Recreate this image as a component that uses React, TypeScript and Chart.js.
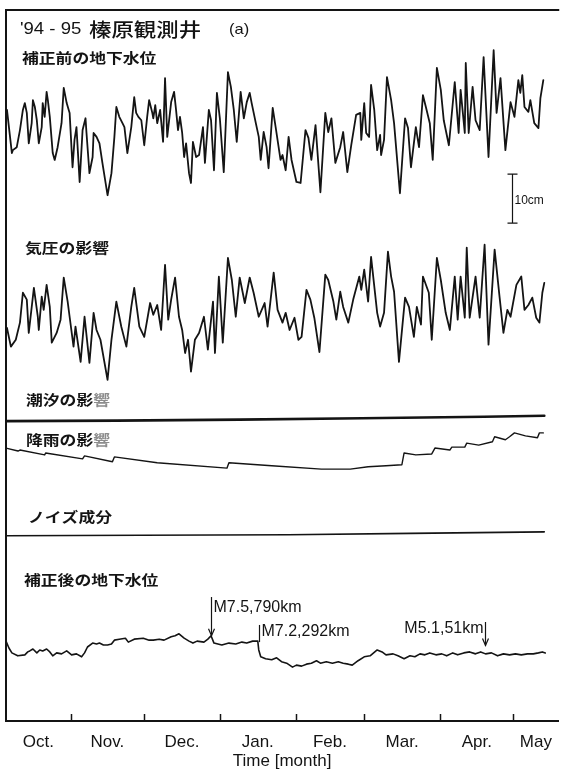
import { useEffect, useRef } from "react";
import { Chart, registerables } from "chart.js";

Chart.register(...registerables);

// ---------- axis / tick data (x in days since 1 Oct 1994) ----------
const MONTH_LABELS = ["Oct.", "Nov.", "Dec.", "Jan.", "Feb.", "Mar.", "Apr.", "May"];
const MONTH_STARTS = [31, 61, 92, 123, 151, 182, 212];
const X_MIN = 4.6;
const X_MAX = 230.3;
const Y_MIN = -145.1; // cm
const Y_MAX = 0;

// ---------- series (day, cm relative to each trace's own baseline) ----------
const RAW_LEVEL: [number, number][] = [
  [5.0, 4.1], [7.0, -4.7], [7.4, -4.1], [9.0, -3.5], [10.3, 0], [11.5, 4.1], [12.3, 5.5], [13.1, 3.5], [13.9, -2.7],
  [15.1, 1.4], [15.6, 6.1], [16.4, 4.7], [17.2, 2.0], [18.0, -2.7], [19.2, 0.6], [19.6, 5.5], [20.4, 2.7], [21.2, 7.8],
  [21.7, 6.1], [22.5, 2.7], [23.7, -4.7], [24.5, -6.1], [25.7, -3.5], [27.3, 1.4], [28.2, 8.6], [29.4, 5.5], [30.6, 3.5],
  [31.8, -7.6], [32.6, -2.0], [33.4, 0.6], [34.7, -10.6], [35.9, 0], [37.1, 2.4], [37.5, -0.6], [38.7, -8.8], [40.0, -5.5],
  [40.4, -0.6], [41.6, -1.4], [42.8, -2.7], [44.0, -6.7], [46.1, -13.3], [47.7, -8.8], [48.9, -1.4], [49.7, 4.7], [50.9, 2.7],
  [52.2, 1.4], [53.0, 0.6], [54.2, -4.7], [55.8, 0.6], [57.0, 6.7], [57.8, 3.5], [58.7, 2.7], [59.9, 2.0], [61.1, -3.1],
  [62.3, 2.7], [63.1, 6.1], [64.4, 3.5], [64.8, 2.4], [65.6, 5.1], [66.4, 1.4], [67.6, 4.1], [68.8, -2.4], [69.6, 10.6],
  [70.5, -1.4], [72.1, 5.7], [73.3, 7.8], [74.1, 4.1], [74.9, 0], [75.7, 2.7], [76.6, -0.6], [77.4, -5.5], [78.2, -2.7],
  [79.4, -8.8], [80.2, -10.8], [81.0, -2.4], [82.3, -5.5], [83.5, -5.1], [85.1, 0.6], [85.9, -6.7], [87.5, 4.1], [88.4, 2.0],
  [89.6, -8.2], [90.8, 7.6], [92.0, 2.4], [93.6, -8.6], [95.3, 11.8], [96.5, 8.8], [97.7, 4.1], [98.9, -2.4], [100.5, 7.8],
  [101.8, 2.4], [103.0, 5.7], [104.2, 7.6], [105.0, 5.5], [106.7, 1.4], [107.9, -1.4], [108.7, -6.1], [109.9, -0.4],
  [111.1, -3.5], [111.9, -7.8], [113.6, 4.5], [114.8, 0.6], [116.8, -6.1], [117.6, -5.1], [118.9, -8.2], [120.1, -1.4],
  [121.3, -6.1], [123.3, -10.6], [125.0, -10.8], [127.0, 0], [128.2, -1.6], [129.4, -6.1], [131.1, 1.0], [133.1, -12.7],
  [135.1, 3.5], [136.3, -0.4], [137.6, 2.4], [139.2, -6.7], [141.2, -3.5], [142.4, -0.4], [144.1, -8.6], [145.7, -3.1],
  [147.7, 3.1], [149.4, 3.5], [149.8, -2.0], [151.0, 5.5], [151.8, -0.6], [153.0, -1.4], [153.8, 9.2], [155.1, 4.1],
  [156.3, -4.1], [157.5, -1.0], [157.9, -5.1], [159.1, -2.0], [160.3, 10.8], [162.0, 6.1], [163.2, 1.4], [165.6, -12.9],
  [167.7, 2.4], [168.9, 0.4], [170.1, -7.6], [172.1, 0.6], [173.4, -3.5], [175.0, 7.1], [176.2, 4.7], [177.8, 1.4],
  [179.0, -6.1], [180.7, 12.7], [182.3, 8.2], [183.5, 2.0], [185.6, -3.1], [188.0, 9.8], [189.6, -0.6], [190.4, 8.2],
  [192.1, -0.6], [192.5, 13.7], [193.7, -0.6], [195.3, 8.8], [196.5, 2.0], [198.2, 0], [199.8, 14.9], [201.8, -5.5],
  [203.9, 16.3], [205.1, 3.5], [206.7, 10.6], [208.7, -4.1], [210.8, 5.7], [212.4, 2.7], [214.0, 10.2], [214.8, 7.6],
  [215.6, 11.2], [216.5, 4.7], [218.1, 3.7], [218.9, 6.1], [220.5, 1.4], [222.2, 0.4], [223.0, 6.5], [224.2, 10.2],
];

const BAROMETRIC: [number, number][] = [
  [5.0, -2.7], [6.6, -6.5], [8.6, -5.1], [10.3, -1.6], [11.5, 4.5], [13.1, 3.1], [13.9, -3.7], [16.0, 5.5], [17.6, -0.4],
  [18.0, -3.1], [19.2, 3.7], [20.0, 1.0], [21.2, 6.1], [22.5, 1.6], [23.3, -5.7], [25.3, -3.7], [26.9, -1.0], [28.2, 7.6],
  [29.8, 2.7], [30.6, -0.4], [32.2, -6.5], [33.0, -2.4], [35.1, -9.6], [36.7, -0.4], [38.7, -9.8], [40.4, 0.4], [41.6, -3.1],
  [43.2, -5.1], [46.1, -13.3], [47.7, -5.1], [49.7, 2.7], [51.7, -2.4], [53.8, -6.5], [55.8, 1.6], [57.0, 5.5], [59.1, -2.4],
  [61.1, -4.5], [63.5, 2.4], [64.8, 0], [66.4, 2.0], [68.0, -3.1], [69.6, 10.2], [70.9, -1.0], [72.1, 3.1], [73.7, 7.6],
  [75.3, -0.4], [76.6, -3.1], [77.8, -7.8], [79.0, -5.1], [80.2, -11.6], [81.8, -5.1], [83.5, -3.7], [85.5, -0.4],
  [87.1, -7.1], [89.2, 2.7], [90.0, -7.8], [91.6, 7.8], [93.2, -5.7], [95.3, 11.6], [96.9, 7.1], [98.5, -0.4], [100.1, 7.6],
  [102.2, 2.4], [104.2, 7.6], [105.8, 4.5], [107.9, -0.4], [110.3, 2.4], [111.5, -2.4], [114.0, 8.6], [115.6, 1.0],
  [117.6, -1.6], [118.9, 0.4], [120.5, -3.1], [122.5, -0.6], [124.1, -5.1], [125.4, -4.5], [127.4, 5.1], [129.0, 3.1],
  [130.6, -0.6], [132.7, -7.6], [135.1, 8.2], [136.3, 7.1], [138.4, 2.7], [139.6, -1.0], [141.2, 4.7], [142.4, 1.6],
  [144.5, -1.6], [146.5, 3.1], [149.0, 7.8], [149.8, 5.1], [151.0, 9.2], [152.6, 2.7], [153.8, 11.8], [156.3, 0.4],
  [157.5, -2.4], [159.1, 0.4], [160.7, 12.9], [162.0, 7.8], [163.2, 4.7], [165.2, -9.6], [167.7, 3.5], [169.3, 1.6],
  [171.3, -4.5], [172.5, 1.6], [174.2, -2.0], [175.0, 7.8], [177.4, 4.5], [178.6, -5.1], [180.7, 11.6], [182.3, 7.1],
  [184.3, 0.4], [186.0, -3.1], [188.0, 7.8], [189.2, -1.0], [190.4, 7.8], [192.1, -0.6], [192.9, 13.7], [194.1, -0.6],
  [196.5, 7.8], [198.2, -0.6], [200.2, 14.3], [201.8, -6.1], [204.3, 13.3], [206.3, 3.7], [207.9, -3.7], [209.5, 1.0],
  [210.8, -0.4], [213.2, 6.1], [215.2, 7.8], [216.5, 1.0], [218.1, 2.0], [219.7, 3.5], [221.3, -0.6], [222.6, -1.6],
  [223.8, 4.5], [224.6, 6.5],
];

const TIDAL: [number, number][] = [
  [4.6, -0.6], [50, -0.5], [100, -0.3], [150, 0], [200, 0.3], [224.6, 0.5],
];

const RAINFALL: [number, number][] = [
  [4.6, 1.4], [9.5, 0.8], [10.3, 1.0], [20.4, 0], [20.8, 0.4], [35.9, -0.8], [36.7, -0.2], [48.1, -1.4], [48.9, -0.4],
  [66.4, -1.6], [94.9, -2.7], [95.7, -1.6], [113.2, -2.2], [133.5, -2.9], [145.3, -2.9], [152.6, -2.4], [159.9, -2.2],
  [166.4, -2.0], [167.3, 0.4], [172.1, 0], [178.6, 0.2], [179.9, 1.4], [186.0, 1.0], [186.8, 1.6], [192.1, 1.6],
  [192.9, 2.4], [197.8, 2.0], [203.4, 2.7], [204.3, 3.7], [208.7, 3.1], [210.4, 3.7], [212.4, 4.5], [216.9, 3.9],
  [221.8, 3.5], [222.6, 4.5], [224.2, 4.5],
];

const NOISE: [number, number][] = [
  [4.6, -0.2], [60, -0.1], [120, 0], [170, 0.3], [224.6, 0.6],
];

const CORRECTED: [number, number][] = [
  [4.6, 1.8], [5.8, 0.4], [7.0, -0.6], [9.4, -1.2], [12.3, -1.0], [13.5, -0.4], [14.3, -0.2], [15.6, 0.2], [17.2, -0.6],
  [18.4, 0], [19.6, -0.2], [21.2, 0.2], [22.5, -0.4], [23.7, -1.2], [25.3, -0.6], [27.3, -0.8], [29.4, -0.2], [31.4, -1.0],
  [33.4, -0.8], [35.5, -1.4], [36.7, -0.6], [37.9, 0.6], [40.0, 1.4], [41.6, 1.2], [42.8, 1.4], [44.4, 1.0], [46.1, 1.0],
  [47.7, 1.2], [48.9, 2.0], [50.9, 2.2], [53.4, 2.4], [54.6, 1.6], [57.0, 2.2], [60.7, 2.4], [63.1, 2.0], [64.8, 2.0],
  [67.2, 2.2], [69.2, 2.0], [72.1, 2.7], [73.7, 2.9], [75.3, 3.3], [77.4, 2.4], [79.4, 1.8], [81.0, 1.4], [82.7, 1.8],
  [85.5, 1.6], [87.1, 2.2], [88.4, 2.9], [89.6, 1.4], [91.2, 1.2], [92.8, 1.0], [95.7, 1.4], [98.5, 1.2], [101.0, 1.6],
  [103.0, 1.4], [105.4, 1.8], [107.5, 1.8], [107.9, 0], [108.7, -1.4], [110.7, -1.8], [113.2, -2.0], [115.2, -1.6],
  [117.2, -2.4], [119.3, -2.7], [121.7, -3.5], [123.3, -3.1], [125.4, -3.3], [127.4, -2.9], [129.4, -2.7], [131.5, -2.2],
  [133.1, -2.7], [135.5, -2.4], [138.0, -2.7], [140.4, -2.4], [142.4, -2.7], [144.5, -2.9], [146.1, -3.1], [148.5, -2.2],
  [151.0, -1.4], [153.4, -1.2], [156.3, 0], [158.3, -0.4], [159.9, -1.0], [162.8, -0.8], [164.8, -1.2], [167.3, -1.8],
  [169.7, -1.2], [171.7, -1.4], [173.8, -0.8], [175.8, -1.0], [177.8, -0.6], [180.3, -1.0], [182.7, -0.8], [184.7, -1.2],
  [187.2, -0.6], [189.2, -1.0], [191.7, -0.6], [194.1, -0.4], [196.5, -0.8], [198.6, -0.4], [200.6, -0.8], [203.0, -0.6],
  [205.5, -1.2], [207.9, -0.8], [210.4, -1.0], [212.8, -0.8], [215.2, -1.0], [217.7, -0.8], [220.1, -0.8], [222.2, -0.6],
  [223.8, -0.4], [225.0, -0.6],
];

// earthquakes marked on the corrected trace
const QUAKE_DAYS = [88.4, 107.8, 200.2];
const QUAKE_LABELS = ["M7.5,790km", "M7.2,292km", "M5.1,51km"];

// ---------- layout (cm positions on the shared axis, pixels for text) ----------
const OFFSET = { raw: -24.5, baro: -62.2, tide: -83.3, rain: -90.8, noise: -107.1, corr: -130.6 };
const QUAKE_LAYOUT = [
  { top: 10.8, bottom: 2.9, text: 8.6, side: "right", arrow: true },
  { top: 5.1, bottom: 1.6, text: 3.7, side: "right", arrow: false },
  { top: 5.7, bottom: 0.9, text: 4.3, side: "left", arrow: true },
];
const SCALE_BAR = { day: 211.2, center: -38.5, length: 10 };
const INK = "#141414";
const CJK = '"Noto Sans CJK JP", "Noto Sans CJK SC", sans-serif';
const LATIN = '"Liberation Sans", Arial, sans-serif';

const COMPONENT_LABELS: { x: number; y: number; parts: [string, string][] }[] = [
  { x: 22, y: 58, parts: [["補正前の地下水位", INK]] },
  { x: 25, y: 248, parts: [["気圧の影響", INK]] },
  { x: 26, y: 400, parts: [["潮汐の影", INK], ["響", "#8c8c8c"]] },
  { x: 26, y: 440, parts: [["降雨の影", INK], ["響", "#8c8c8c"]] },
  { x: 28, y: 517, parts: [["ノイズ成分", INK]] },
  { x: 24, y: 580, parts: [["補正後の地下水位", INK]] },
];

const labelPositions = (): number[] => {
  const edges = [X_MIN, ...MONTH_STARTS, X_MAX];
  const out: number[] = [];
  for (let i = 0; i < edges.length - 1; i++) out.push((edges[i] + edges[i + 1]) / 2);
  return out;
};

function stretchedText(ctx: CanvasRenderingContext2D, text: string, x: number, y: number, font: string, sx: number, color: string) {
  ctx.save();
  ctx.translate(x, y);
  ctx.scale(sx, 1);
  ctx.font = font;
  ctx.fillStyle = color;
  ctx.textBaseline = "middle";
  ctx.textAlign = "left";
  ctx.fillText(text, 0, 0);
  const w = ctx.measureText(text).width * sx;
  ctx.restore();
  return w;
}

const decor = {
  id: "decor",
  afterDraw(chart: any) {
    const { ctx, chartArea: ca, scales } = chart;
    const xs = scales.x;
    const ys = scales.y;
    ctx.save();
    // frame (left + top)
    ctx.strokeStyle = INK;
    ctx.lineWidth = 2;
    ctx.beginPath();
    ctx.moveTo(ca.left, ca.bottom);
    ctx.lineTo(ca.left, ca.top);
    ctx.lineTo(ca.right + 1, ca.top);
    ctx.stroke();
    // inward month ticks
    ctx.lineWidth = 1.5;
    for (const d of MONTH_STARTS) {
      const px = Math.round(xs.getPixelForValue(d)) + 0.5;
      ctx.beginPath();
      ctx.moveTo(px, ca.bottom);
      ctx.lineTo(px, ca.bottom - 7);
      ctx.stroke();
    }
    // scale bar
    const bx = Math.round(xs.getPixelForValue(SCALE_BAR.day)) + 0.5;
    const bt = ys.getPixelForValue(SCALE_BAR.center + SCALE_BAR.length / 2);
    const bb = ys.getPixelForValue(SCALE_BAR.center - SCALE_BAR.length / 2);
    ctx.lineWidth = 1.2;
    ctx.beginPath();
    ctx.moveTo(bx, bt); ctx.lineTo(bx, bb);
    ctx.moveTo(bx - 5, bt); ctx.lineTo(bx + 5, bt);
    ctx.moveTo(bx - 5, bb); ctx.lineTo(bx + 5, bb);
    ctx.stroke();
    ctx.font = `12px ${LATIN}`;
    ctx.fillStyle = INK;
    ctx.textBaseline = "middle";
    ctx.textAlign = "left";
    ctx.fillText(`${SCALE_BAR.length}cm`, bx + 2, (bt + bb) / 2 + 2);

    // title
    stretchedText(ctx, "'94 - 95", 20, 30, `16px ${LATIN}`, 1.16, INK);
    stretchedText(ctx, "榛原観測井", 89, 30, `500 19px ${CJK}`, 1.18, INK);
    stretchedText(ctx, "(a)", 229, 30, `15px ${LATIN}`, 1.1, INK);

    // component labels
    for (const lab of COMPONENT_LABELS) {
      let x = lab.x;
      for (const [t, c] of lab.parts) {
        x += stretchedText(ctx, t, x, lab.y, `bold 14px ${CJK}`, 1.2, c);
      }
    }

    // earthquake markers
    ctx.strokeStyle = INK;
    ctx.fillStyle = INK;
    ctx.lineWidth = 1.2;
    QUAKE_DAYS.forEach((d, i) => {
      const L = QUAKE_LAYOUT[i];
      const px = Math.round(xs.getPixelForValue(d)) + 0.5;
      const yt = ys.getPixelForValue(OFFSET.corr + L.top);
      const yb = ys.getPixelForValue(OFFSET.corr + L.bottom);
      ctx.beginPath();
      ctx.moveTo(px, yt);
      ctx.lineTo(px, yb);
      ctx.stroke();
      if (L.arrow) {
        ctx.beginPath();
        ctx.moveTo(px - 3, yb - 7);
        ctx.lineTo(px, yb);
        ctx.lineTo(px + 3, yb - 7);
        ctx.stroke();
      }
      const ty = ys.getPixelForValue(OFFSET.corr + L.text);
      ctx.font = `16px ${LATIN}`;
      ctx.textBaseline = "middle";
      if (L.side === "right") {
        ctx.textAlign = "left";
        ctx.fillText(QUAKE_LABELS[i], px + 2, ty);
      } else {
        ctx.textAlign = "right";
        ctx.fillText(QUAKE_LABELS[i], px - 2, ty);
      }
    });
    ctx.restore();
  },
};

const series = (pts: [number, number][], offset: number) => pts.map(([x, y]) => ({ x, y: offset + y }));

export default function App() {
  const ref = useRef<HTMLCanvasElement | null>(null);
  useEffect(() => {
    if (!ref.current) return;
    const line = (data: [number, number][], offset: number, width: number) => ({
      data: series(data, offset),
      borderColor: INK,
      borderWidth: width,
      borderJoinStyle: "round",
      borderCapStyle: "round",
      pointRadius: 0,
      tension: 0,
      fill: false,
    });
    const mids = labelPositions();
    const chart = new Chart(ref.current, {
      type: "line",
      data: {
        datasets: [
          line(RAW_LEVEL, OFFSET.raw, 1.8),
          line(BAROMETRIC, OFFSET.baro, 1.8),
          line(TIDAL, OFFSET.tide, 2.6),
          line(RAINFALL, OFFSET.rain, 1.4),
          line(NOISE, OFFSET.noise, 1.6),
          line(CORRECTED, OFFSET.corr, 1.6),
        ] as any,
      },
      options: {
        animation: false,
        responsive: false,
        devicePixelRatio: 1,
        parsing: false as any,
        layout: { padding: { top: 10, left: 6, right: 2, bottom: 0 } },
        plugins: { legend: { display: false }, tooltip: { enabled: false }, title: { display: false } },
        scales: {
          x: {
            type: "linear",
            min: X_MIN,
            max: X_MAX,
            afterBuildTicks: (scale: any) => {
              scale.ticks = mids.map((v) => ({ value: v }));
            },
            afterFit: (scale: any) => {
              scale.height = 57;
            },
            grid: { display: false, drawTicks: false },
            border: { display: true, color: INK, width: 2 },
            ticks: {
              autoSkip: false,
              maxRotation: 0,
              padding: 11,
              color: INK,
              font: { family: LATIN, size: 17 },
              callback: (_v: any, i: number) => MONTH_LABELS[i],
            },
            title: {
              display: true,
              text: "Time [month]",
              color: INK,
              font: { family: LATIN, size: 17 },
              padding: { top: 0, bottom: 6 },
            },
          },
          y: { display: false, min: Y_MIN, max: Y_MAX },
        },
      },
      plugins: [decor],
    });
    return () => chart.destroy();
  }, []);
  return (
    <div style={{ position: "fixed", left: 0, top: 0, width: 563, height: 778, background: "#fff" }}>
      <canvas ref={ref} width={563} height={778} style={{ display: "block" }} />
    </div>
  );
}
